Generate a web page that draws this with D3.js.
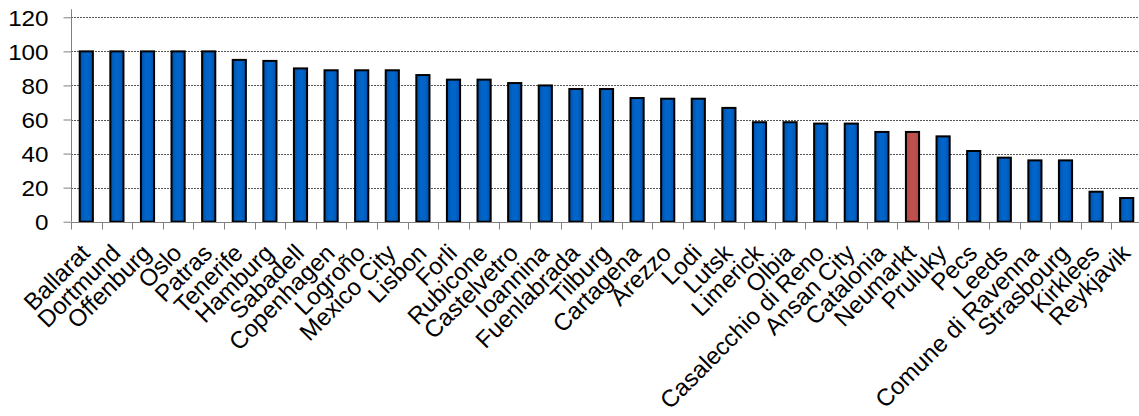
<!DOCTYPE html>
<html>
<head>
<meta charset="utf-8">
<script src="https://cdn.jsdelivr.net/npm/d3@7"></script>
<style>
  html, body { margin: 0; padding: 0; background: #fff; }
  svg { display: block; }
  text { font-family: "Liberation Sans", Arial, sans-serif; fill: #000; }
</style>
</head>
<body>
<svg id="chart" width="1139" height="416"></svg>
<script>
// City scores, sorted descending
const cities = ["Ballarat", "Dortmund", "Offenburg", "Oslo", "Patras", "Tenerife", "Hamburg",
  "Sabadell", "Copenhagen", "Logroño", "Mexico City", "Lisbon", "Forli", "Rubicone",
  "Castelvetro", "Ioannina", "Fuenlabrada", "Tilburg", "Cartagena", "Arezzo", "Lodi",
  "Lutsk", "Limerick", "Olbia", "Casalecchio di Reno", "Ansan City", "Catalonia",
  "Neumarkt", "Pruluky", "Pecs", "Leeds", "Comune di Ravenna", "Strasbourg", "Kirklees",
  "Reykjavik"];
const scores = [100, 100, 100, 100, 100, 95, 94.4, 90, 88.9, 88.9, 88.9, 86.1, 83.4, 83.4,
  81.4, 80, 77.9, 77.9, 72.6, 72.2, 72.2, 66.8, 58.4, 58.4, 57.6, 57.6, 52.7, 52.7, 50.1,
  41.5, 37.6, 36, 36, 17.6, 13.9];
const highlighted = ["Neumarkt"];
const yTicks = [0, 20, 40, 60, 80, 100, 120];

const svg = d3.select("#chart");
const plotLeft = 71, plotRight = 1142, plotTop = 17.3, plotBottom = 221.7;

const x = d3.scaleBand().domain(cities).range([plotLeft, plotRight]).paddingInner(0.57).paddingOuter(0.285);
const y = d3.scaleLinear().domain([0, 120]).range([plotBottom, plotTop]);

// Horizontal shading for the bars
const defs = svg.append("defs");
function shade(id, edge, mid) {
  const g = defs.append("linearGradient").attr("id", id).attr("x1", 0).attr("x2", 1).attr("y1", 0).attr("y2", 0);
  g.append("stop").attr("offset", 0).attr("stop-color", edge);
  g.append("stop").attr("offset", 0.35).attr("stop-color", mid);
  g.append("stop").attr("offset", 0.65).attr("stop-color", mid);
  g.append("stop").attr("offset", 1).attr("stop-color", edge);
}
shade("blueBar", "#0050a8", "#0064c8");
shade("redBar", "#b04844", "#c0504d");

// Dotted gridlines
svg.append("g")
  .selectAll("line")
  .data(yTicks.filter(d => d > 0))
  .join("line")
  .attr("x1", plotLeft).attr("x2", plotRight)
  .attr("y1", d => Math.round(y(d)) + 0.5).attr("y2", d => Math.round(y(d)) + 0.5)
  .attr("stroke", "#555")
  .attr("stroke-width", 1)
  .attr("stroke-dasharray", "2,1");

// Bars
svg.append("g")
  .selectAll("rect")
  .data(cities.map((c, i) => ({ c, v: scores[i] })))
  .join("rect")
  .attr("x", d => x(d.c))
  .attr("y", d => y(d.v))
  .attr("width", x.bandwidth())
  .attr("height", d => y(0) - y(d.v))
  .attr("fill", d => highlighted.includes(d.c) ? "url(#redBar)" : "url(#blueBar)")
  .attr("stroke", "#000")
  .attr("stroke-width", 2);

// Y axis
const yAxis = svg.append("g")
  .attr("transform", `translate(${plotLeft + 0.5},0)`)
  .call(d3.axisLeft(y).tickValues(yTicks).tickSize(8).tickFormat(d3.format("d")));
yAxis.select(".domain").attr("stroke", "#808080").attr("d", `M0,${plotTop - 8}V${plotBottom}`);
yAxis.selectAll(".tick line").attr("stroke", "#808080");
yAxis.selectAll(".tick text")
  .attr("x", 0)
  .attr("font-size", 22)
  .attr("dy", "0.36em")
  .attr("transform", "translate(-23,0) scale(1.1,1)")
  .style("font-family", "'Liberation Sans', Arial, sans-serif");

// X axis: tick marks between categories
const xAxis = svg.append("g").attr("transform", `translate(0,${Math.round(plotBottom) + 0.5})`);
xAxis.append("line").attr("x1", plotLeft).attr("x2", plotRight).attr("stroke", "#808080");
const step = x.step();
xAxis.selectAll("line.sep")
  .data(d3.range(cities.length + 1))
  .join("line")
  .attr("class", "sep")
  .attr("x1", i => Math.round(plotLeft + i * step) + 0.5)
  .attr("x2", i => Math.round(plotLeft + i * step) + 0.5)
  .attr("y1", 0).attr("y2", 7)
  .attr("stroke", "#808080");

// Rotated category labels
xAxis.selectAll("text")
  .data(cities)
  .join("text")
  .attr("text-anchor", "end")
  .attr("font-size", 24)
  .attr("transform", d => `translate(${x(d) + x.bandwidth() / 2 + 5},${32}) rotate(-45)`)
  .text(d => d);
</script>
</body>
</html>
